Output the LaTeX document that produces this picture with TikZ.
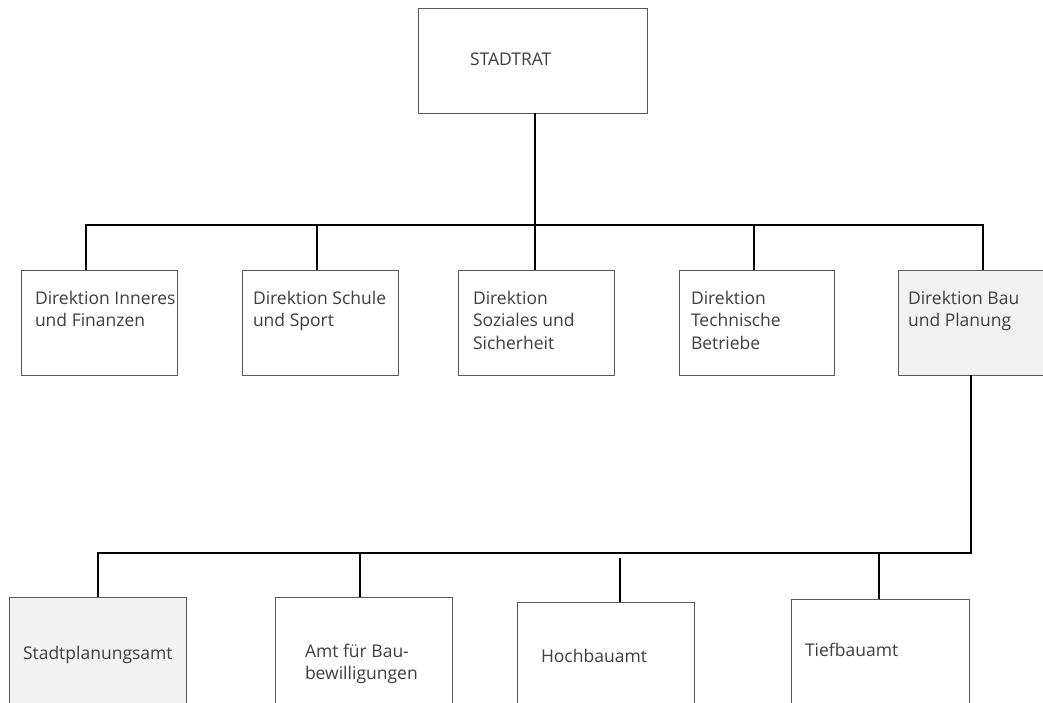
\documentclass[tikz,border=0pt]{standalone}
\usepackage{fontspec}
\setmainfont{Open Sans}
\usetikzlibrary{calc}
\definecolor{boxgray}{HTML}{595959}
\definecolor{textgray}{HTML}{3F3F3F}
\definecolor{fillgray}{HTML}{F2F2F2}
\begin{document}
\begin{tikzpicture}[x=1pt,y=-1pt,
  box/.style={draw=boxgray, line width=1pt, rectangle, inner sep=0pt, outer sep=0pt, anchor=north west},
  shaded/.style={fill=fillgray},
  conn/.style={line width=1.8pt, black},
  lbl/.style={anchor=base west, inner sep=0pt, outer sep=0pt, text=textgray, align=left, font=\fontsize{17.5}{22.5}\selectfont}]
\useasboundingbox (0,0) rectangle (1043,702);
\clip (0,0) rectangle (1043,702);
\fill[white] (0,0) rectangle (1043,702);

% level 0
\node[box, minimum width=229pt, minimum height=105pt] (rat) at (418,8) {};
\node[lbl] (ratT) at (470,65) {STADTRAT};

% level 1 (base anchor = baseline of the last line)
\node[box, minimum width=156pt, minimum height=105pt] (b1) at (21,270) {};
\node[box, minimum width=156pt, minimum height=105pt] (b2) at (242,270) {};
\node[box, minimum width=156pt, minimum height=105pt] (b3) at (458,270) {};
\node[box, minimum width=155pt, minimum height=105pt] (b4) at (679,270) {};
\node[box, shaded, minimum width=156pt, minimum height=105pt] (b5) at (898,270) {};
\node[lbl] (b1T) at (35,326.5) {Direktion Inneres\\und Finanzen};
\node[lbl] (b2T) at (253,326.5) {Direktion Schule\\und Sport};
\node[lbl] (b3T) at (473,349) {Direktion\\Soziales und\\Sicherheit};
\node[lbl] (b4T) at (691,349) {Direktion\\Technische\\Betriebe};
\node[lbl] (b5T) at (908,326.5) {Direktion Bau\\und Planung};

% level 2
\node[box, shaded, minimum width=177pt, minimum height=150pt] (sp) at (9,597) {};
\node[box, minimum width=177pt, minimum height=150pt] (amt) at (275,597) {};
\node[box, minimum width=177pt, minimum height=150pt] (hoch) at (517,602) {};
\node[box, minimum width=178pt, minimum height=150pt] (tief) at (791,599) {};
\node[lbl] (spT) at (23,659) {Stadtplanungsamt};
\node[lbl] (amtT) at (305,679.5) {Amt für Bau-\\bewilligungen};
\node[lbl] (hochT) at (541,662) {Hochbauamt};
\node[lbl] (tiefT) at (805,656) {Tiefbauamt};

% connectors
\coordinate (j0) at (535,225);
\coordinate (v1) at (86,225);
\coordinate (v2) at (317,225);
\coordinate (v4) at (754,225);
\coordinate (v5) at (983,225);
\draw[conn] (rat.south -| j0) -- (j0);
\draw[conn] (v1 |- b1.north) -- (v1) -- (v5) -- (v5 |- b5.north);
\draw[conn] (v2) -- (v2 |- b2.north);
\draw[conn] (j0) -- (j0 |- b3.north);
\draw[conn] (v4) -- (v4 |- b4.north);

\coordinate (w0) at (971,553);
\coordinate (w1) at (98,553);
\coordinate (w2) at (360,553);
\coordinate (w3) at (620,558);
\coordinate (w4) at (879,553);
\draw[conn] (w0 |- b5.south) -- (w0) -- (w1) -- (w1 |- sp.north);
\draw[conn] (w2) -- (w2 |- amt.north);
\draw[conn] (w3) -- (w3 |- hoch.north);
\draw[conn] (w4) -- (w4 |- tief.north);
\end{tikzpicture}
\end{document}
